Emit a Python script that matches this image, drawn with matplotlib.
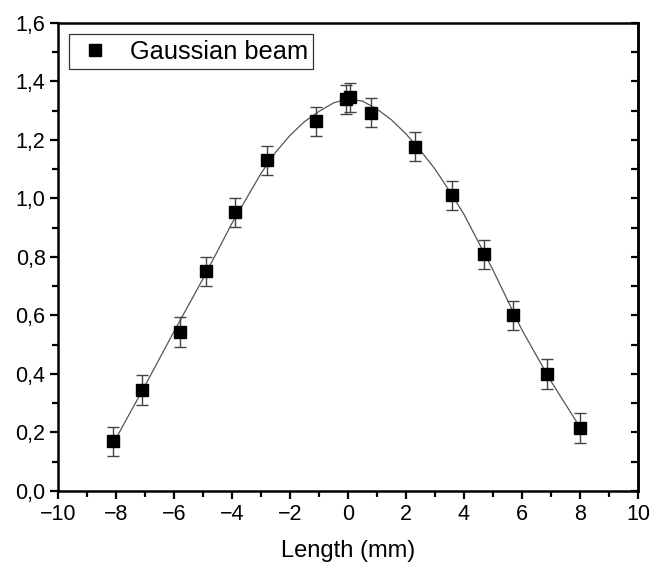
import matplotlib
matplotlib.use("Agg")
import matplotlib.pyplot as plt
from matplotlib.lines import Line2D
from matplotlib.ticker import MultipleLocator, FuncFormatter

plt.rcParams['font.family'] = ['Liberation Sans', 'DejaVu Sans']

# measured points
x_pts = [-8.1, -7.1, -5.8, -4.9, -3.9, -2.8, -1.1, -0.07, 0.07, 0.8, 2.3, 3.6, 4.7, 5.7, 6.85, 8.0]
y_pts = [0.17, 0.345, 0.543, 0.75, 0.952, 1.13, 1.263, 1.338, 1.345, 1.293, 1.177, 1.01, 0.809, 0.60, 0.40, 0.215]
y_err = [0.05, 0.05, 0.05, 0.05, 0.05, 0.05, 0.05, 0.05, 0.05, 0.05, 0.05, 0.05, 0.05, 0.05, 0.05, 0.05]

# fit curve
x_fit = [-8.1, -8, -7, -6, -5, -4, -3, -2.5, -2, -1.5, -1, -0.5, 0, 0.5, 1, 1.5, 2, 2.5, 3, 3.5, 4, 5, 6, 7, 8]
y_fit = [0.165, 0.18, 0.36, 0.545, 0.725, 0.915, 1.085, 1.157, 1.215, 1.262, 1.297, 1.326, 1.340, 1.332, 1.305, 1.268, 1.22, 1.163, 1.10, 1.025, 0.945, 0.755, 0.55, 0.375, 0.218]

fig = plt.figure(figsize=(6.54, 5.62), dpi=100)
ax = fig.add_axes([0.0887, 0.1263, 0.9755 - 0.0887, 0.9596 - 0.1263])

ax.plot(x_fit, y_fit, color='#555555', lw=0.9, zorder=2)
ax.errorbar(x_pts, y_pts, yerr=y_err, fmt='s', color='black', ms=8.5,
            ecolor='#444444', elinewidth=1.0, capsize=4.3, capthick=1.0,
            zorder=3)

ax.set_xlim(-10, 10)
ax.set_ylim(0, 1.6)
ax.xaxis.set_major_locator(MultipleLocator(2))
ax.xaxis.set_minor_locator(MultipleLocator(1))
ax.yaxis.set_major_locator(MultipleLocator(0.2))
ax.yaxis.set_minor_locator(MultipleLocator(0.1))
ax.yaxis.set_major_formatter(FuncFormatter(lambda v, p: f"{v:.1f}".replace('.', ',')))
ax.xaxis.set_major_formatter(FuncFormatter(lambda v, p: f"{int(round(v))}".replace('-', '\u2212')))

for s in ax.spines.values():
    s.set_linewidth(1.8)

ax.tick_params(axis='both', which='major', direction='out', length=6, width=1.6,
               labelsize=15.5, pad=3)
ax.tick_params(axis='both', which='minor', direction='out', length=4, width=1.6)
ax.tick_params(axis='y', which='both', right=False)

# right ticks inward
sec = ax.secondary_yaxis('right')
sec.yaxis.set_major_locator(MultipleLocator(0.2))
sec.yaxis.set_minor_locator(MultipleLocator(0.1))
sec.tick_params(axis='y', which='both', direction='in', length=5, width=1.6, labelright=False)
sec.spines['right'].set_linewidth(1.8)

ax.set_xlabel('Length (mm)', fontsize=17, labelpad=11)

handle = Line2D([], [], marker='s', color='black', linestyle='none', markersize=8)
leg = ax.legend([handle], ['Gaussian beam'], loc='upper left', fontsize=18.3,
                frameon=True, fancybox=False, edgecolor='black', borderpad=0.22,
                handletextpad=0.55, handlelength=1.6, borderaxespad=0.45)
leg.get_frame().set_linewidth(0.9)

fig.savefig('out.png', dpi=100, facecolor='white')
